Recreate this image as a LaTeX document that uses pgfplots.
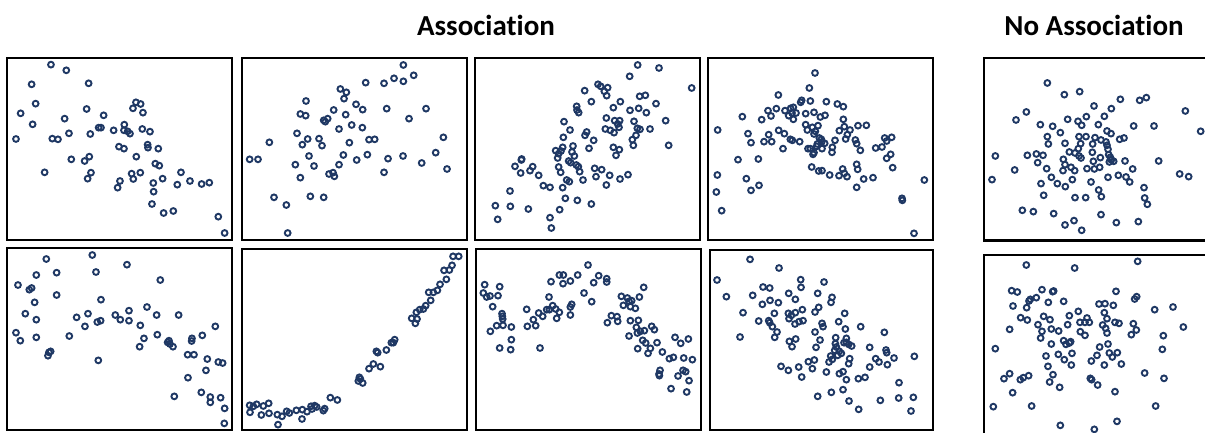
\documentclass[border=0pt]{standalone}
\usepackage{fontspec}
\setmainfont{Carlito}[Ligatures=NoCommon]
\usepackage{pgfplots}
\pgfplotsset{compat=1.18}
\definecolor{navy}{RGB}{31,56,100}
\pgfplotsset{panel/.style={scale only axis, anchor=north west, ticks=none, y dir=reverse, clip=false, axis line style={black, line width=2.3pt}},
 pts/.style={only marks, mark=o, mark size=2.9pt, mark options={draw=navy, line width=1.9pt}}}
\begin{document}
\begin{tikzpicture}
\useasboundingbox (0pt,0pt) rectangle (1205pt,-432pt);
\node[font=\fontsize{29}{33}\selectfont\bfseries, anchor=base] at (486pt,-35pt) {Association};
\node[font=\fontsize{29}{33}\selectfont\bfseries, anchor=base] at (1094pt,-35pt) {No Association};
% Panel 1
\begin{axis}[panel, at={(7.3pt,-58.3pt)}, width=225pt, height=181.7pt, xmin=22, xmax=697, ymin=25, ymax=570]
\addplot[pts] coordinates {(153,44) (199,61) (95,103) (266,100) (107,161) (62,190) (260,177) (194,206) (311,196) (408,157) (422,162) (399,175) (429,188) (98,223) (48,267) (157,266) (174,268) (207,250) (271,252) (296,233) (303,233) (341,241) (373,224) (372,241) (383,244) (390,251) (427,237) (450,245) (443,284) (444,293) (357,290) (372,296) (475,296) (214,328) (254,333) (268,320) (134,367) (273,368) (263,386) (409,320) (466,341) (478,347) (395,371) (421,368) (400,387) (360,393) (353,413) (460,399) (488,386) (461,425) (543,367) (532,404) (570,393) (605,402) (628,398) (456,462) (491,489) (520,483) (655,500) (674,549)};
\end{axis}
% Panel 2
\begin{axis}[panel, at={(242pt,-58.3pt)}, width=224.7pt, height=181.7pt, xmin=18, xmax=692, ymin=25, ymax=570]
\addplot[pts] coordinates {(502,45) (533,76) (474,85) (502,94) (444,100) (389,98) (313,117) (331,127) (324,146) (210,153) (360,163) (380,179) (293,180) (452,176) (570,176) (193,192) (209,197) (329,194) (263,211) (268,215) (275,206) (519,206) (347,225) (379,233) (309,237) (183,250) (100,277) (215,267) (249,266) (199,284) (258,287) (340,278) (399,269) (416,268) (622,262) (41,328) (66,328) (219,318) (322,315) (394,314) (362,330) (456,326) (501,318) (599,308) (178,344) (234,348) (309,344) (557,339) (633,357) (279,372) (291,368) (295,379) (193,383) (444,367) (114,442) (223,439) (263,442) (151,465) (155,549)};
\end{axis}
% Panel 3
\begin{axis}[panel, at={(475pt,-58.3pt)}, width=225pt, height=181.7pt, xmin=15, xmax=690, ymin=25, ymax=570]
\addplot[pts] coordinates {(503,45) (567,54) (479,79) (665,114) (384,103) (392,109) (413,113) (403,124) (410,137) (344,122) (509,139) (526,136) (364,155) (451,155) (558,161) (320,169) (321,180) (326,188) (430,173) (480,181) (506,175) (529,188) (282,215) (409,204) (434,212) (449,212) (443,222) (492,214) (587,212) (300,240) (345,256) (350,246) (406,237) (421,241) (432,248) (447,232) (502,235) (510,238) (540,237) (280,262) (371,271) (487,269) (498,256) (490,286) (596,286) (257,302) (266,311) (273,303) (263,324) (278,292) (309,288) (313,318) (306,306) (296,333) (302,338) (319,345) (325,350) (357,295) (430,292) (448,299) (438,316) (155,327) (154,330) (135,349) (188,350) (180,362) (152,369) (206,376) (266,351) (272,367) (329,365) (374,355) (395,359) (419,376) (378,380) (450,387) (474,374) (220,407) (240,412) (278,413) (290,390) (298,395) (339,390) (409,405) (120,423) (286,445) (322,451) (364,462) (76,467) (121,469) (175,477) (83,508) (269,479) (240,503) (244,534)};
\end{axis}
% Panel 4
\begin{axis}[panel, at={(708pt,-58.3pt)}, width=225pt, height=181.7pt, xmin=15, xmax=690, ymin=25, ymax=570]
\addplot[pts] coordinates {(336,69) (319,114) (226,135) (296,151) (293,157) (322,153) (370,155) (403,162) (421,170) (195,182) (220,176) (246,182) (263,175) (271,172) (267,189) (279,189) (257,197) (271,208) (308,191) (333,187) (352,201) (366,196) (118,200) (176,209) (204,198) (421,208) (44,240) (227,241) (244,251) (308,224) (313,240) (328,232) (337,244) (345,227) (333,252) (409,242) (424,230) (441,240) (433,254) (465,227) (490,226) (135,251) (197,254) (144,278) (183,275) (206,275) (262,268) (268,271) (290,275) (349,264) (355,268) (343,282) (356,276) (365,280) (396,271) (428,267) (457,270) (461,281) (472,301) (240,296) (315,296) (322,296) (330,313) (333,308) (341,289) (357,296) (388,292) (387,307) (518,294) (537,291) (545,264) (551,273) (566,262) (563,313) (551,325) (105,329) (166,327) (43,375) (130,386) (144,421) (168,406) (40,426) (56,482) (326,351) (347,363) (357,362) (380,375) (408,377) (419,357) (424,370) (432,380) (461,343) (464,358) (461,412) (482,387) (510,383) (569,353) (597,445) (598,451) (664,390) (633,550)};
\end{axis}
% Panel 5
\begin{axis}[panel, at={(984pt,-58.3pt)}, width=228pt, height=182.3pt, xmin=27, xmax=711, ymin=25, ymax=572]
\addplot[pts] coordinates {(217,99) (314,125) (268,134) (357,168) (436,148) (494,151) (514,143) (409,176) (154,186) (123,210) (278,208) (309,214) (334,200) (388,199) (631,183) (196,224) (233,229) (320,226) (370,224) (476,228) (537,228) (677,244) (256,248) (396,243) (408,251) (217,260) (220,282) (270,280) (312,260) (333,260) (360,263) (378,270) (317,281) (310,296) (353,282) (393,276) (396,286) (434,268) (447,264) (61,318) (157,316) (184,312) (204,316) (188,338) (283,306) (300,309) (312,318) (318,324) (352,307) (399,298) (401,314) (265,328) (270,344) (288,352) (299,362) (264,362) (215,356) (336,356) (355,334) (358,357) (376,323) (374,352) (403,336) (409,330) (416,334) (406,322) (450,333) (473,357) (551,333) (119,360) (51,389) (229,382) (198,401) (247,401) (271,410) (292,389) (348,396) (399,382) (430,376) (453,381) (464,396) (614,372) (641,380) (206,436) (300,443) (332,443) (371,420) (379,440) (507,413) (509,444) (517,463) (142,481) (175,485) (236,491) (378,494) (270,525) (297,512) (320,541) (424,518) (490,515)};
\end{axis}
% Panel 6
\begin{axis}[panel, at={(7.3pt,-248pt)}, width=225pt, height=181.7pt, xmin=22, xmax=697, ymin=15, ymax=560]
\addplot[pts] coordinates {(139,48) (277,36) (381,65) (109,96) (170,89) (288,87) (54,126) (88,140) (95,135) (481,111) (170,156) (104,178) (303,170) (76,212) (109,230) (230,223) (264,212) (255,250) (292,237) (302,233) (346,216) (361,230) (387,203) (387,233) (441,192) (470,216) (536,216) (48,269) (61,293) (109,283) (208,279) (421,247) (432,286) (419,311) (472,275) (503,298) (507,293) (510,303) (519,311) (576,286) (575,294) (607,277) (646,250) (147,328) (152,325) (144,338) (295,352) (563,335) (582,335) (622,348) (655,357) (668,360) (618,382) (564,404) (523,460) (604,448) (631,462) (631,478) (662,464) (674,496) (673,541)};
\end{axis}
% Panel 7
\begin{axis}[panel, at={(242pt,-249pt)}, width=224.7pt, height=181.3pt, xmin=18, xmax=692, ymin=18, ymax=562]
\addplot[pts] coordinates {(651,40) (668,40) (648,67) (624,82) (640,81) (631,109) (612,124) (578,148) (592,148) (604,142) (584,172) (569,188) (562,198) (551,200) (541,208) (527,226) (543,228) (538,241) (476,290) (472,299) (466,299) (451,321) (421,325) (425,329) (412,363) (433,371) (399,377) (370,403) (373,408) (367,414) (380,420) (283,464) (304,471) (41,487) (52,490) (62,484) (82,489) (98,481) (42,508) (76,516) (99,511) (124,515) (138,520) (152,505) (160,510) (126,545) (181,502) (199,500) (198,528) (213,506) (225,490) (236,488) (242,492) (228,498) (262,503) (266,497)};
\end{axis}
% Panel 8
\begin{axis}[panel, at={(476pt,-249pt)}, width=224.7pt, height=181.3pt, xmin=18, xmax=692, ymin=18, ymax=562]
\addplot[pts] coordinates {(354,66) (268,96) (280,96) (323,96) (386,98) (410,107) (410,117) (243,116) (279,122) (301,114) (371,119) (44,125) (89,131) (40,150) (50,162) (60,159) (84,158) (68,191) (237,162) (342,150) (365,176) (454,160) (472,165) (477,175) (485,173) (521,133) (508,162) (460,187) (481,191) (496,196) (248,188) (238,200) (257,198) (268,208) (301,192) (305,184) (170,199) (206,210) (218,220) (230,200) (260,226) (301,216) (96,212) (97,220) (98,228) (80,248) (99,247) (124,252) (61,265) (172,250) (190,230) (197,248) (412,239) (424,218) (441,221) (443,235) (481,233) (505,232) (499,253) (511,265) (523,263) (502,270) (477,279) (545,250) (553,260) (124,290) (89,315) (122,320) (210,315) (518,292) (527,300) (561,299) (503,317) (541,316) (534,331) (577,327) (615,283) (632,301) (655,288) (598,347) (610,343) (641,345) (667,350) (570,382) (567,393) (568,398) (624,399) (639,382) (647,386) (657,413) (603,437) (650,447)};
\end{axis}
% Panel 9
\begin{axis}[panel, at={(709.7pt,-250pt)}, width=223.3pt, height=180pt, xmin=20, xmax=690, ymin=22, ymax=562]
\addplot[pts] coordinates {(141,50) (228,76) (42,112) (293,111) (363,118) (180,133) (200,136) (294,134) (70,162) (149,158) (257,152) (344,152) (387,164) (384,179) (178,185) (201,173) (226,180) (277,170) (120,210) (214,212) (256,212) (265,218) (277,210) (298,201) (336,208) (347,194) (425,212) (167,235) (197,234) (200,240) (258,228) (276,244) (288,237) (300,234) (357,242) (360,252) (407,237) (208,252) (222,268) (215,284) (111,283) (259,296) (278,289) (267,312) (336,268) (351,292) (339,314) (427,259) (473,252) (544,269) (398,285) (430,287) (397,303) (400,313) (423,300) (430,299) (437,305) (446,310) (395,323) (409,326) (415,332) (404,338) (383,340) (378,358) (388,350) (316,357) (334,352) (328,378) (287,373) (234,371) (256,383) (296,403) (370,388) (409,393) (420,387) (430,411) (440,348) (437,363) (500,314) (549,322) (551,330) (518,348) (528,358) (553,366) (573,346) (500,373) (634,341) (466,408) (486,404) (344,461) (385,449) (420,441) (438,475) (467,500) (532,473) (588,420) (587,466) (631,464) (624,505)};
\end{axis}
% Panel 10
\begin{axis}[panel, at={(984.3pt,-255pt)}, width=227.7pt, height=190pt, xmin=28, xmax=711, ymin=30, ymax=600]
\addplot[pts] coordinates {(154,60) (299,69) (488,49) (110,137) (127,141) (201,134) (233,140) (236,138) (423,139) (166,163) (162,168) (184,158) (220,172) (266,169) (479,162) (485,155) (114,183) (155,188) (372,177) (390,176) (415,181) (539,194) (594,186) (137,218) (157,225) (206,214) (225,224) (283,212) (310,199) (336,219) (315,232) (330,232) (343,232) (388,203) (396,221) (383,240) (420,232) (432,235) (475,236) (104,253) (189,239) (201,259) (229,252) (251,258) (278,239) (316,260) (330,271) (392,250) (396,264) (469,269) (484,255) (565,272) (625,246) (61,311) (197,279) (229,297) (266,287) (273,298) (283,294) (287,290) (374,306) (399,297) (213,333) (250,328) (268,344) (291,325) (289,360) (219,364) (349,348) (366,331) (388,360) (403,324) (412,336) (427,323) (439,357) (562,313) (104,386) (87,401) (136,404) (145,398) (161,392) (234,389) (224,411) (254,427) (113,443) (346,400) (350,404) (368,420) (509,384) (567,400) (420,440) (55,485) (170,483) (542,483) (256,541) (358,553) (426,529)};
\end{axis}
\end{tikzpicture}
\end{document}
